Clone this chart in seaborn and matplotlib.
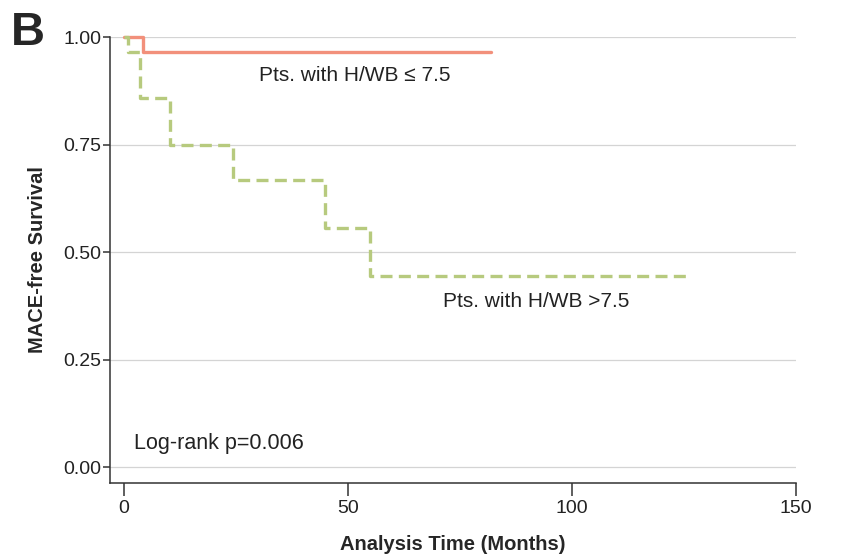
import matplotlib
matplotlib.use("Agg")
import matplotlib.pyplot as plt
import seaborn as sns
import pandas as pd

sns.set_style("white")
plt.rcParams['font.family'] = ['Liberation Sans', 'DejaVu Sans']

# Kaplan-Meier step data (months, survival)
low_time = [0, 4.2, 82]
low_surv = [1.0, 0.965, 0.965]
high_time = [0, 1.0, 3.6, 10.3, 24.3, 44.9, 55.0, 125.7]
high_surv = [1.0, 0.965, 0.857, 0.75, 0.667, 0.556, 0.444, 0.444]

low_label = "Pts. with H/WB \u2264 7.5"
high_label = "Pts. with H/WB >7.5"

df_low = pd.DataFrame({"time": low_time, "surv": low_surv})
df_high = pd.DataFrame({"time": high_time, "surv": high_surv})

fig = plt.figure(figsize=(8.42, 5.59), dpi=100)
ax = fig.add_axes([110/842, 1-483/559, 686/842, 446/559])

# grid lines
for yv in [0, 0.25, 0.5, 0.75, 1.0]:
	ax.axhline(yv, color="#d4d4d4", lw=0.9, zorder=0)

sns.lineplot(x="time", y="surv", data=df_low, ax=ax, color="#f2907b",
	lw=2.4, drawstyle="steps-post", estimator=None, sort=False, clip_on=False)
sns.lineplot(x="time", y="surv", data=df_high, ax=ax, color="#b7ca7e",
	lw=2.4, drawstyle="steps-post", estimator=None, sort=False, clip_on=False,
	dashes=False, linestyle=(0, (3.6, 1.9)))

ax.set_xlim(-3.1, 150)
ax.set_ylim(-0.0372, 1.0)
ax.set_xticks([0, 50, 100, 150])
ax.set_yticks([0, 0.25, 0.5, 0.75, 1.0])
ax.set_yticklabels(["0.00", "0.25", "0.50", "0.75", "1.00"])
ax.tick_params(axis="y", left=True, length=5, width=1.1, labelsize=14, pad=1,
	color="#333333", labelcolor="#222222")
ax.tick_params(axis="x", bottom=True, length=9, width=1.1, labelsize=14, pad=3,
	color="#333333", labelcolor="#222222")

for s in ["top", "right"]:
	ax.spines[s].set_visible(False)
for s in ["left", "bottom"]:
	ax.spines[s].set_color("#333333")
	ax.spines[s].set_linewidth(1.1)

ax.set_xlabel("Analysis Time (Months)", fontsize=14.5, fontweight="bold", labelpad=13)
ax.set_ylabel("MACE-free Survival", fontsize=14.5, fontweight="bold", labelpad=12)

ax.text(51.5, 0.91, low_label, fontsize=15, ha="center", va="center", color="#222222")
ax.text(92, 0.385, high_label, fontsize=15, ha="center", va="center", color="#222222")
ax.text(2.3, 0.055, "Log-rank p=0.006", fontsize=15.5, ha="left", va="center", color="#222222")

fig.text(11/842, 1-33/559, "B", fontsize=34, fontweight="bold", ha="left", va="center")

fig.savefig("out.png", dpi=100)
